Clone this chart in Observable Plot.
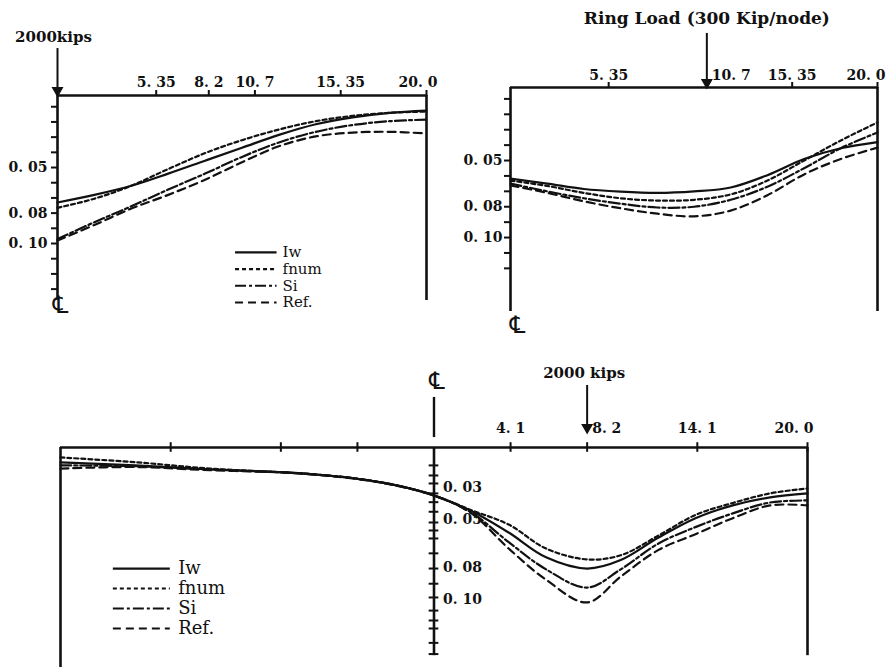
<!DOCTYPE html>
<html>
<head>
<meta charset="utf-8">
<script src="https://cdn.jsdelivr.net/npm/d3@7"></script>
<script src="https://cdn.jsdelivr.net/npm/@observablehq/plot@0.6"></script>
<style>
  body { margin: 0; background: #fff; }
  #chart { position: relative; width: 889px; height: 670px; overflow: hidden; }
  #chart svg { position: absolute; overflow: visible; }
</style>
</head>
<body>
<div id="chart"></div>
<script>
// ---------- data ----------
const seriesNames = ["Iw", "fnum", "Si", "Ref."];
const centreLineSymbol = ["\u2104"];

// Panel 1: point load 2000 kips at the centre line
const p1X = [0, 2, 4, 6, 8, 10, 12, 14, 16, 18, 20];
const p1Iw   = [0.073, 0.068, 0.062, 0.054, 0.0455, 0.037, 0.0285, 0.0215, 0.017, 0.014, 0.0125];
const p1Fnum = [0.0765, 0.0705, 0.062, 0.051, 0.0405, 0.032, 0.025, 0.0195, 0.016, 0.014, 0.0132];
const p1Si   = [0.097, 0.086, 0.0755, 0.0645, 0.054, 0.043, 0.0335, 0.0265, 0.022, 0.0195, 0.0185];
const p1Ref  = [0.098, 0.0878, 0.077, 0.068, 0.058, 0.0465, 0.036, 0.0295, 0.027, 0.0265, 0.0276];
const p1XTicks = [5.35, 8.2, 10.7, 15.35, 20.0];
const p1XTickLabels = ["5. 35", "8. 2", "10. 7", "15. 35", "20. 0"];
const p1YTicks = [0.01, 0.02, 0.03, 0.04, 0.05, 0.06, 0.07, 0.08, 0.09, 0.10, 0.11, 0.12, 0.13];
const p1YLabelValues = [0.05, 0.08, 0.10];
const p1YLabels = ["0. 05", "0. 08", "0. 10"];
const p1LoadX = [0];
const p1LoadLabel = ["2000kips"];

// Panel 2: ring load 300 kip/node at 10.7
const p2X = [0, 2, 4, 6, 8, 10, 12, 14, 16, 18, 20];
const p2Iw   = [0.0617, 0.065, 0.0685, 0.0702, 0.071, 0.070, 0.0675, 0.0595, 0.049, 0.042, 0.038];
const p2Fnum = [0.063, 0.0665, 0.071, 0.0745, 0.076, 0.0755, 0.072, 0.063, 0.050, 0.037, 0.0253];
const p2Si   = [0.065, 0.070, 0.0745, 0.078, 0.0805, 0.080, 0.0755, 0.067, 0.055, 0.042, 0.0318];
const p2Ref  = [0.0662, 0.071, 0.0765, 0.081, 0.0845, 0.0862, 0.0825, 0.0725, 0.059, 0.049, 0.0416];
const p2XTicks = [5.35, 10.7, 15.35, 20.0];
const p2XTickLabels = ["5. 35", "10. 7", "15. 35", "20. 0"];
const p2YTicks = [0.01, 0.02, 0.03, 0.04, 0.05, 0.06, 0.07, 0.08, 0.09, 0.10, 0.11, 0.12];
const p2YLabelValues = [0.05, 0.08, 0.10];
const p2YLabels = ["0. 05", "0. 08", "0. 10"];
const p2LoadX = [10.7];
const p2LoadLabel = ["Ring Load (300 Kip/node)"];

// Panel 3: point load 2000 kips at 8.2, symmetric about the centre line
const p3X = [-20, -16, -12, -8, -6, -4, -2, 0, 2, 4, 6, 8.2, 10, 12, 14, 16, 18, 20];
const p3Iw   = [0.0141, 0.016, 0.0185, 0.0204, 0.022, 0.0245, 0.0285, 0.0348, 0.0445, 0.058, 0.0735, 0.0805, 0.0752, 0.0613, 0.049, 0.041, 0.036, 0.0335];
const p3Fnum = [0.011, 0.014, 0.018, 0.0204, 0.022, 0.0245, 0.0285, 0.0348, 0.044, 0.053, 0.068, 0.0748, 0.0722, 0.060, 0.047, 0.0395, 0.0335, 0.0304];
const p3Si   = [0.016, 0.0165, 0.0185, 0.0204, 0.022, 0.0245, 0.0285, 0.0348, 0.0455, 0.064, 0.081, 0.0924, 0.081, 0.065, 0.0546, 0.046, 0.0392, 0.0379];
const p3Ref  = [0.018, 0.017, 0.019, 0.0205, 0.0222, 0.0247, 0.0287, 0.0348, 0.046, 0.068, 0.0875, 0.1017, 0.0855, 0.069, 0.059, 0.049, 0.041, 0.041];
const p3XTicks = [-14.1, -8.2, -4.1, 4.1, 8.2, 14.1, 20.0];
const p3XTickLabels = ["", "", "", "4. 1", "8. 2", "14. 1", "20. 0"];
const p3YTicks = [0.016, 0.0223, 0.0273, 0.0335, 0.039, 0.045, 0.0517, 0.0567, 0.0617, 0.071, 0.0805, 0.09, 0.0986, 0.1068, 0.113, 0.118, 0.127, 0.134];
const p3YLabelValues = [0.03, 0.05, 0.08, 0.10];
const p3YLabels = ["0. 03", "0. 05", "0. 08", "0. 10"];
const p3LoadX = [8.2];
const p3LoadLabel = ["2000 kips"];

// ---------- styles / layout ----------
const INK = "#111";
const SERIF = "DejaVu Serif";
const dashes = [null, "4,3", "11,3,3,3", "8,5"];
const lineWidth = 2.2;
const axisWidth = 2.6;
const numFont = {fontSize: 14, fontWeight: "bold", fontFamily: SERIF, fill: INK};

function seriesLines(xs, ys) {
  return ys.map((vals, i) =>
    Plot.line(xs.map((x, j) => ({x, y: vals[j]})), {
      x: "x", y: "y", stroke: INK, strokeWidth: lineWidth,
      strokeDasharray: dashes[i], curve: "catmull-rom"
    })
  );
}

function legend(x1, x2, xText, rows, fontSize) {
  return seriesNames.flatMap((name, i) => [
    Plot.ruleY([rows[i]], {x1, x2, stroke: INK, strokeWidth: lineWidth, strokeDasharray: dashes[i]}),
    Plot.text([name], {x: xText, y: rows[i], text: d => d, textAnchor: "start",
      fontSize, fontFamily: SERIF, fill: INK})
  ]);
}

function centreLine(x, y, dx = 0) {
  return [
    Plot.text(centreLineSymbol, {x, y, text: d => d, fontSize: 24, fontFamily: "DejaVu Sans", fill: INK, dx: dx + 3, dy: 3})
  ];
}

function loadArrow(xs, yFrom, yTo) {
  return [
    Plot.ruleX(xs, {x: d => d, y1: yFrom, y2: yTo, stroke: INK, strokeWidth: 2}),
    Plot.dot(xs, {x: d => d, y: yTo, symbol: "triangle", rotate: 180, r: 3.5, fill: INK, stroke: INK, dy: -3})
  ];
}

// tick labels along the top axis, as text marks anchored to the frame top
function topLabels(ticks, labels, pick, opts) {
  const idx = ticks.map((t, i) => i).filter(pick);
  return Plot.text(idx, {x: i => ticks[i], text: i => labels[i], frameAnchor: "top", ...numFont, ...opts});
}

const labelOf = (vals, labels) => { const m = new Map(vals.map((v, i) => [v, labels[i]])); return d => m.get(d) ?? ""; };
const chart = document.getElementById("chart");
const baseStyle = {fontFamily: SERIF, fontSize: "14px", color: INK, background: "transparent", overflow: "visible"};

// ---------- panel 1 ----------
const p1YTop = 0.0026, p1YBottom = 0.1375;
const p1 = Plot.plot({
  width: 445, height: 320,
  marginLeft: 57, marginRight: 19, marginTop: 95, marginBottom: 20,
  style: baseStyle,
  x: {domain: [0, 20], label: null},
  y: {domain: [p1YTop, p1YBottom], reverse: true, label: null},
  marks: [
    Plot.axisX({anchor: "top", ticks: p1XTicks, tickFormat: () => "", tickSize: 6, strokeWidth: 2, label: null}),
    topLabels(p1XTicks, p1XTickLabels, i => i < 4, {dy: -18}),
    topLabels(p1XTicks, p1XTickLabels, i => i === 4, {dy: -18, textAnchor: "end", dx: 11}),
    Plot.axisY({anchor: "left", ticks: p1YTicks, tickFormat: labelOf(p1YLabelValues, p1YLabels),
      tickSize: 6, tickPadding: 4, strokeWidth: 2, fontWeight: "bold", label: null}),
    Plot.ruleY([p1YTop], {stroke: INK, strokeWidth: axisWidth}),
    Plot.ruleX([0, 20], {stroke: INK, strokeWidth: axisWidth}),
    ...seriesLines(p1X, [p1Iw, p1Fnum, p1Si, p1Ref]),
    ...legend(9.65, 11.9, 12.2, [0.1058, 0.1168, 0.1278, 0.1388], 15),
    ...loadArrow(p1LoadX, -0.0283, 0.0013),
    Plot.text(p1LoadLabel, {x: p1LoadX[0], y: -0.0355, text: d => d, dx: -4, ...numFont, fontSize: 15}),
    ...centreLine(0, 0.139)
  ]
});
p1.style.left = "0px"; p1.style.top = "0px";
chart.appendChild(p1);

// ---------- panel 2 ----------
const p2YTop = 0.0026, p2YBottom = 0.148;
const p2 = Plot.plot({
  width: 444, height: 335,
  marginLeft: 65, marginRight: 12, marginTop: 87, marginBottom: 24,
  style: baseStyle,
  x: {domain: [0, 20], label: null},
  y: {domain: [p2YTop, p2YBottom], reverse: true, label: null},
  marks: [
    Plot.axisX({anchor: "top", ticks: p2XTicks, tickFormat: () => "", tickSize: 6, strokeWidth: 2, label: null}),
    topLabels(p2XTicks, p2XTickLabels, i => i === 0 || i === 2, {dy: -17}),
    topLabels(p2XTicks, p2XTickLabels, i => i === 1, {dy: -17, textAnchor: "start", dx: 5}),
    topLabels(p2XTicks, p2XTickLabels, i => i === 3, {dy: -17, textAnchor: "end", dx: 8}),
    Plot.axisY({anchor: "left", ticks: p2YTicks, tickFormat: labelOf(p2YLabelValues, p2YLabels),
      tickSize: 6, tickPadding: 2, strokeWidth: 2, fontWeight: "bold", label: null}),
    Plot.ruleY([p2YTop], {stroke: INK, strokeWidth: axisWidth}),
    Plot.ruleX([0, 20], {stroke: INK, strokeWidth: axisWidth}),
    ...seriesLines(p2X, [p2Iw, p2Fnum, p2Si, p2Ref]),
    ...loadArrow(p2LoadX, -0.0325, 0.0013),
    Plot.text(p2LoadLabel, {x: p2LoadX[0], y: -0.0422, text: d => d, fontSize: 17, fontWeight: "bold", fontFamily: SERIF, fill: INK}),
    ...centreLine(0, 0.155, 4)
  ]
});
p2.style.left = "445px"; p2.style.top = "0px";
chart.appendChild(p2);

// ---------- panel 3 ----------
const p3YTop = 0.0048, p3YBottom = 0.1424;
const p3 = Plot.plot({
  width: 889, height: 335,
  marginLeft: 60, marginRight: 82, marginTop: 112, marginBottom: 3,
  style: baseStyle,
  x: {domain: [-20, 20], label: null},
  y: {domain: [p3YTop, p3YBottom], reverse: true, label: null, axis: null},
  marks: [
    Plot.axisX({anchor: "top", ticks: p3XTicks, tickFormat: () => "", tickSize: 0, label: null}),
    topLabels(p3XTicks, p3XTickLabels, i => i === 3 || i === 5, {dy: -24}),
    topLabels(p3XTicks, p3XTickLabels, i => i === 4, {dy: -24, textAnchor: "start", dx: 5}),
    topLabels(p3XTicks, p3XTickLabels, i => i === 6, {dy: -24, textAnchor: "end", dx: 6}),
    Plot.ruleX(p3XTicks, {x: d => d, y1: p3YTop - 0.003, y2: p3YTop + 0.003, stroke: INK, strokeWidth: 2}),
    Plot.ruleY([p3YTop], {stroke: INK, strokeWidth: axisWidth}),
    Plot.ruleX([-20], {stroke: INK, strokeWidth: axisWidth}),
    Plot.ruleX([0, 20], {y1: p3YTop, y2: 0.135, stroke: INK, strokeWidth: axisWidth}),
    Plot.ruleY(p3YTicks, {y: d => d, x1: -0.26, x2: 0.26, stroke: INK, strokeWidth: 2}),
    Plot.text(p3YLabelValues, {x: 0, y: d => d, text: (d, i) => p3YLabels[i], dx: 9, textAnchor: "start", ...numFont}),
    ...seriesLines(p3X, [p3Iw, p3Fnum, p3Si, p3Ref]),
    ...legend(-17.17, -14.12, -13.7, [0.0805, 0.093, 0.1055, 0.118], 18),
    ...loadArrow(p3LoadX, -0.034, -0.0058),
    Plot.text(p3LoadLabel, {x: p3LoadX[0], y: -0.0415, text: d => d, dx: -3, ...numFont, fontSize: 15}),
    Plot.ruleX([0], {y1: -0.0265, y2: -0.0014, stroke: INK, strokeWidth: 2.4}),
    ...centreLine(0, -0.0383)
  ]
});
p3.style.left = "0px"; p3.style.top = "335px";
chart.appendChild(p3);
</script>
</body>
</html>
